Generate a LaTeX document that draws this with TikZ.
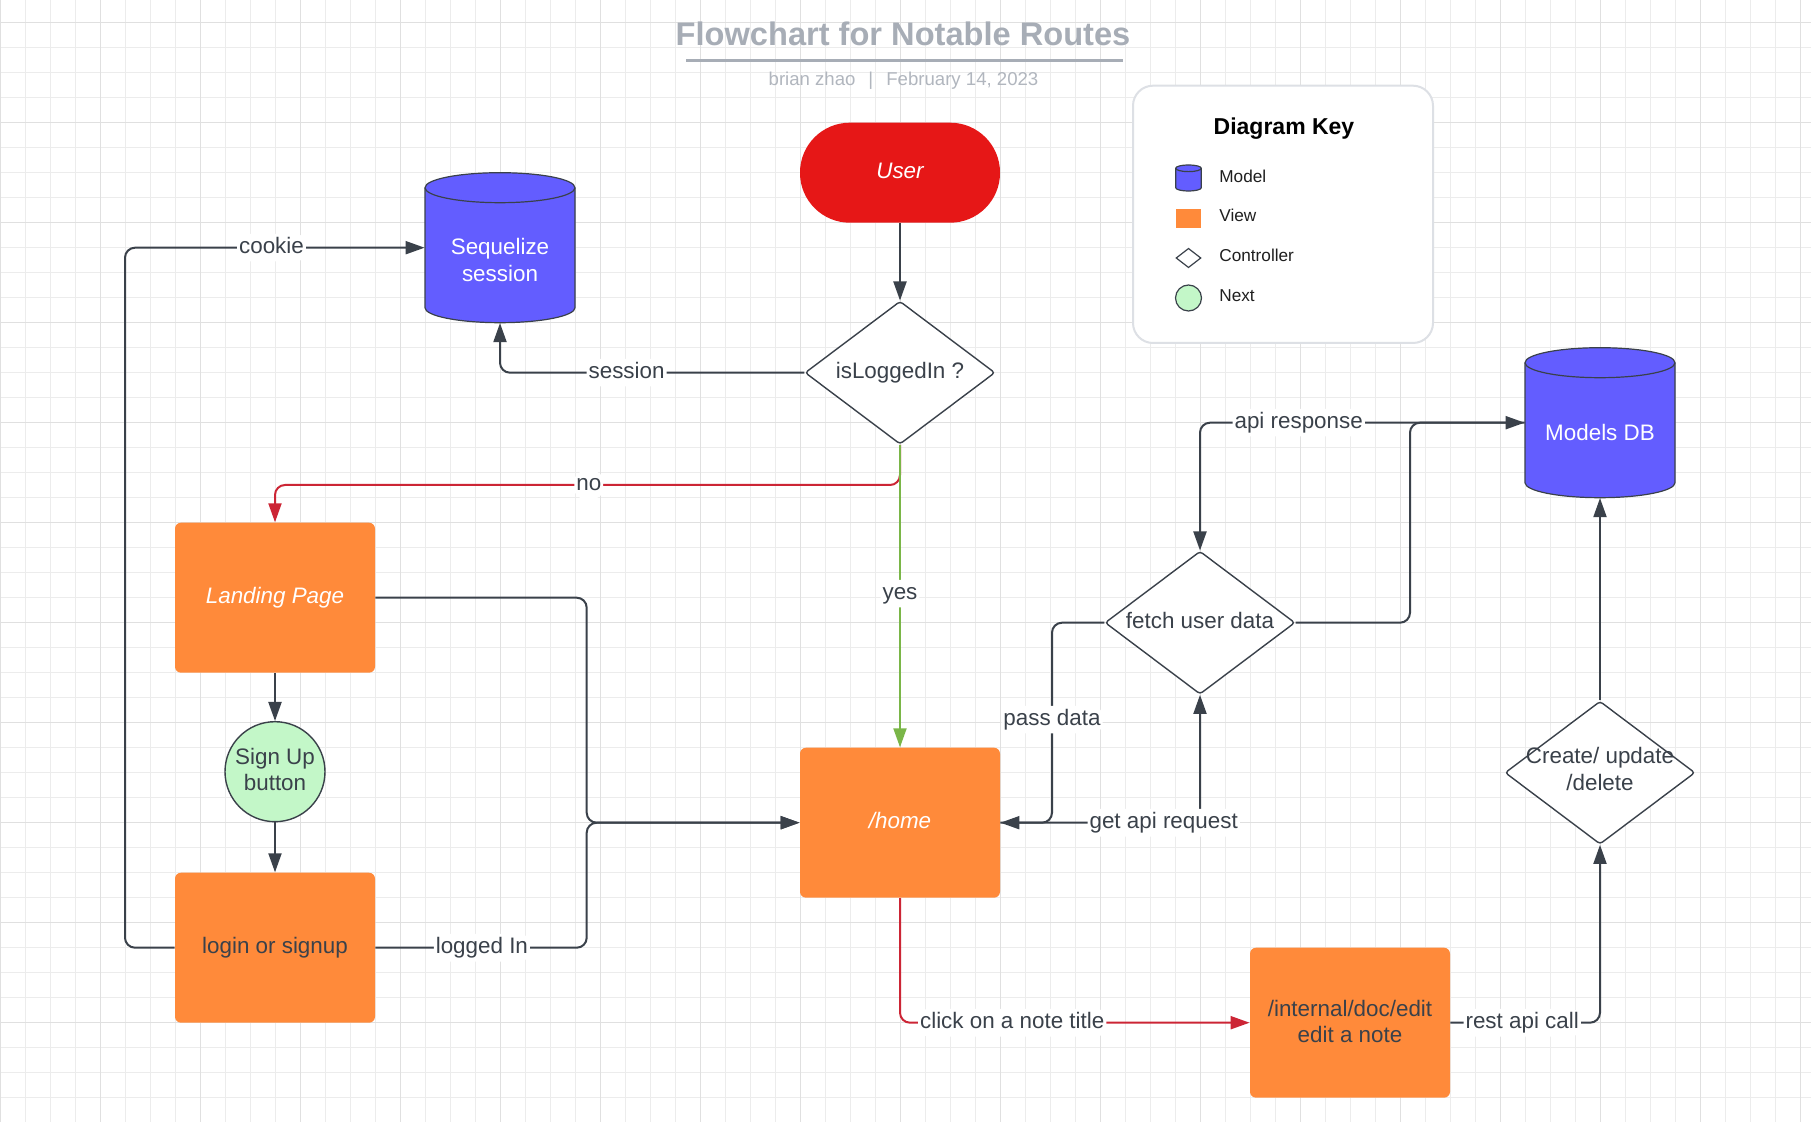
\documentclass[tikz,border=0pt]{standalone}
\usepackage{fontspec}
\setmainfont{Liberation Sans}
\usetikzlibrary{shapes.geometric,arrows.meta}
\definecolor{dark}{HTML}{3A414A}
\definecolor{vieworange}{HTML}{FF8A3A}
\definecolor{modelblue}{HTML}{635DFF}
\definecolor{nextgreen}{HTML}{C3F7C8}
\definecolor{userred}{HTML}{E61717}
\definecolor{linered}{HTML}{CC2535}
\definecolor{linegreen}{HTML}{7AB648}
\definecolor{titlegray}{HTML}{A7ADB6}
\definecolor{subgray}{HTML}{B1B6BE}
\definecolor{gridminor}{HTML}{ECECEC}
\definecolor{gridmajor}{HTML}{E0E0E0}
\definecolor{keyborder}{HTML}{DDE0E5}
\begin{document}
\begin{tikzpicture}[x=0.5pt,y=-0.5pt,
  mainfont/.style={font=\fontsize{11.2}{13.2}\selectfont},
  txt/.style={mainfont, text=dark, align=center, inner sep=0pt},
  wtxt/.style={txt, text=white},
  itxt/.style={wtxt, font=\itshape\fontsize{11.2}{13.2}\selectfont},
  oneline/.style={text height=8.6pt, text depth=3.2pt},
  viewbox/.style={rectangle, rounded corners=3pt, fill=vieworange, minimum width=100pt, minimum height=75pt, inner sep=0pt},
  ctrl/.style={diamond, draw=dark, line width=0.7pt, fill=white, minimum width=95pt, minimum height=71.5pt, inner sep=0pt, rounded corners=1.5pt},
  conn/.style={draw=dark, line width=1pt, rounded corners=5pt, -{Triangle[length=9.5pt,width=6.5pt]}},
  connred/.style={conn, draw=linered},
  conngreen/.style={conn, draw=linegreen},
  elabel/.style={mainfont, text=dark, fill=white, inner sep=1pt, text height=8.6pt, text depth=3.2pt},
  cylstyle/.style={fill=modelblue, draw=dark, line width=0.6pt},
  keytext/.style={anchor=base west, inner sep=0pt, font=\fontsize{8.6}{10}\selectfont, text=black!88}
]
\useasboundingbox (0,0) rectangle (1811,1122);
\fill[white] (0,0) rectangle (1811,1122);
% grid
\foreach \i in {0,...,72} {\draw[gridminor, line width=0.5pt] ({\i*25},0) -- ({\i*25},1122);}
\foreach \i in {0,...,44} {\draw[gridminor, line width=0.5pt] (0,{22.7+\i*25}) -- (1811,{22.7+\i*25});}
\foreach \i in {0,...,18} {\draw[gridmajor, line width=0.5pt] ({\i*100},0) -- ({\i*100},1122);}
\foreach \i in {0,...,11} {\draw[gridmajor, line width=0.5pt] (0,{22.7+\i*100}) -- (1811,{22.7+\i*100});}

% title
\node[name=title, anchor=base, font=\bfseries\fontsize{16.3}{19}\selectfont, text=titlegray, inner sep=0pt] at (903,45.7) {Flowchart for Notable Routes};
\draw[titlegray, line width=1.3pt] (686,60.7) -- (1123,60.7);
\node[name=subtitle, anchor=base, font=\fontsize{9.3}{11}\selectfont, text=subgray, inner sep=0pt] at (903.5,86) {brian zhao\hspace{6.5pt}|\hspace{6.5pt}February 14, 2023};

% legend
\node[name=key, rectangle, rounded corners=10pt, draw=keyborder, line width=1pt, fill=white, minimum width=150pt, minimum height=128.65pt, inner sep=0pt] at (1283,214.35) {};
\node[name=keytitle, anchor=base, font=\bfseries\fontsize{11.5}{13}\selectfont, text=black, inner sep=0pt] at (1284,135) {Diagram Key};
\path[cylstyle] (1175.7,168.3) -- (1175.7,187.7) arc[start angle=180,end angle=360,x radius=6.4pt,y radius=1.67pt] -- (1201.3,168.3) arc[start angle=0,end angle=180,x radius=6.4pt,y radius=1.67pt] -- cycle;
\draw[dark, line width=0.6pt] (1175.7,168.3) arc[start angle=180,end angle=360,x radius=6.4pt,y radius=1.67pt];
\node[name=kmodel, keytext] at (1219,182.3) {Model};
\node[name=kview, rectangle, fill=vieworange, minimum width=12.5pt, minimum height=9.35pt, inner sep=0pt] at (1188.5,218.3) {};
\node[name=kviewt, keytext] at (1219,222) {View};
\node[name=kctrl, diamond, draw=dark, line width=0.6pt, fill=white, minimum width=12.5pt, minimum height=9.7pt, inner sep=0pt] at (1188.5,258) {};
\node[name=kctrlt, keytext] at (1219,261.7) {Controller};
\node[name=knext, circle, draw=dark, line width=0.6pt, fill=nextgreen, minimum size=13pt, inner sep=0pt] at (1188.5,298) {};
\node[name=knextt, keytext] at (1219,301.7) {Next};

% nodes
\node[name=user, rectangle, rounded corners=24.9pt, fill=userred, minimum width=100pt, minimum height=50pt, itxt, oneline] at (900,172.7) {User};

\node[name=seq, rectangle, minimum width=75pt, minimum height=75pt, inner sep=0pt] at (500,247.7) {};
\path[cylstyle] (425,187.7) -- (425,307.7) arc[start angle=180,end angle=360,x radius=37.5pt,y radius=7.5pt] -- (575,187.7) arc[start angle=0,end angle=180,x radius=37.5pt,y radius=7.5pt] -- cycle;
\draw[dark, line width=0.6pt] (425,187.7) arc[start angle=180,end angle=360,x radius=37.5pt,y radius=7.5pt];
\node[name=seqt, wtxt] at (500,260) {Sequelize\\session};

\node[name=mdb, rectangle, minimum width=75pt, minimum height=75pt, inner sep=0pt] at (1600,422.7) {};
\path[cylstyle] (1525,362.7) -- (1525,482.7) arc[start angle=180,end angle=360,x radius=37.5pt,y radius=7.5pt] -- (1675,362.7) arc[start angle=0,end angle=180,x radius=37.5pt,y radius=7.5pt] -- cycle;
\draw[dark, line width=0.6pt] (1525,362.7) arc[start angle=180,end angle=360,x radius=37.5pt,y radius=7.5pt];
\node[name=mdbt, wtxt, oneline] at (1600,435) {Models DB};

\node[name=isL, ctrl] at (900,372.7) {};
\node[name=isLt, txt, oneline] at (isL.center) {isLoggedIn ?};

\node[name=land, viewbox, itxt, oneline] at (275,597.7) {Landing Page};
\node[name=signup, circle, draw=dark, line width=0.7pt, fill=nextgreen, minimum size=50pt, inner sep=0pt] at (275,771.7) {};
\node[name=signupt, txt] at (275,769.4) {Sign Up\\button};
\node[name=login, viewbox, txt, oneline] at (275,947.7) {login or signup};
\node[name=home, viewbox, itxt, oneline] at (900,822.7) {/home};

\node[name=fetch, ctrl] at (1200,622.7) {};
\node[name=fetcht, txt, oneline] at (fetch.center) {fetch user data};
\node[name=cud, ctrl] at (1600,772.7) {};
\node[name=cudt, txt] at (1600,769) {Create/ update\\/delete};
\node[name=int, viewbox] at (1350,1022.7) {};
\node[name=intt, txt] at (1350,1021.3) {/internal/doc/edit\\edit a note};

% connectors
\draw[conn] (user.south) -- (isL.north);
\draw[conn] (isL.west) -- node[elabel, pos=0.584] {session} (500,372.7) -- (seq.south);
\draw[conn] (login.west) -- (125,947.7) -- (125,247.7) -- node[elabel, pos=0.489] {cookie} (seq.west);
\draw[connred] (isL.south) -- (900,485) -- node[elabel, pos=0.498] {no} (275,485) -- (land.north);
\draw[conngreen] (isL.south) -- node[elabel, pos=0.492] {yes} (home.north);
\draw[conn] (land.south) -- (signup.north);
\draw[conn] (signup.south) -- (login.north);
\draw[conn] (land.east) -- (586.7,597.7) -- (586.7,822.7) -- (home.west);
\draw[conn] (login.east) -- node[elabel, pos=0.504] {logged In} (586.7,947.7) -- (586.7,822.7) -- (home.west);
\draw[conn] (fetch.west) -- (1052,622.7) -- node[elabel, pos=0.485] {pass data} (1052,822.7) -- (home.east);
\draw[conn] (home.east) -- node[elabel, pos=0.818] {get api request} (1200,822.7) -- (fetch.south);
\draw[conn] (fetch.east) -- (1410,622.7) -- (1410,422.7) -- (mdb.west);
\draw[conn] (mdb.west) -- node[elabel, pos=0.696] {api response} (1200,422.7) -- (fetch.north);
\draw[connred] (home.south) -- (900,1022.7) -- node[elabel, pos=0.321] {click on a note title} (int.west);
\draw[conn] (int.east) -- node[elabel, pos=0.48] {rest api call} (1600,1022.7) -- (cud.south);
\draw[conn] (cud.north) -- (mdb.south);
\end{tikzpicture}
\end{document}
